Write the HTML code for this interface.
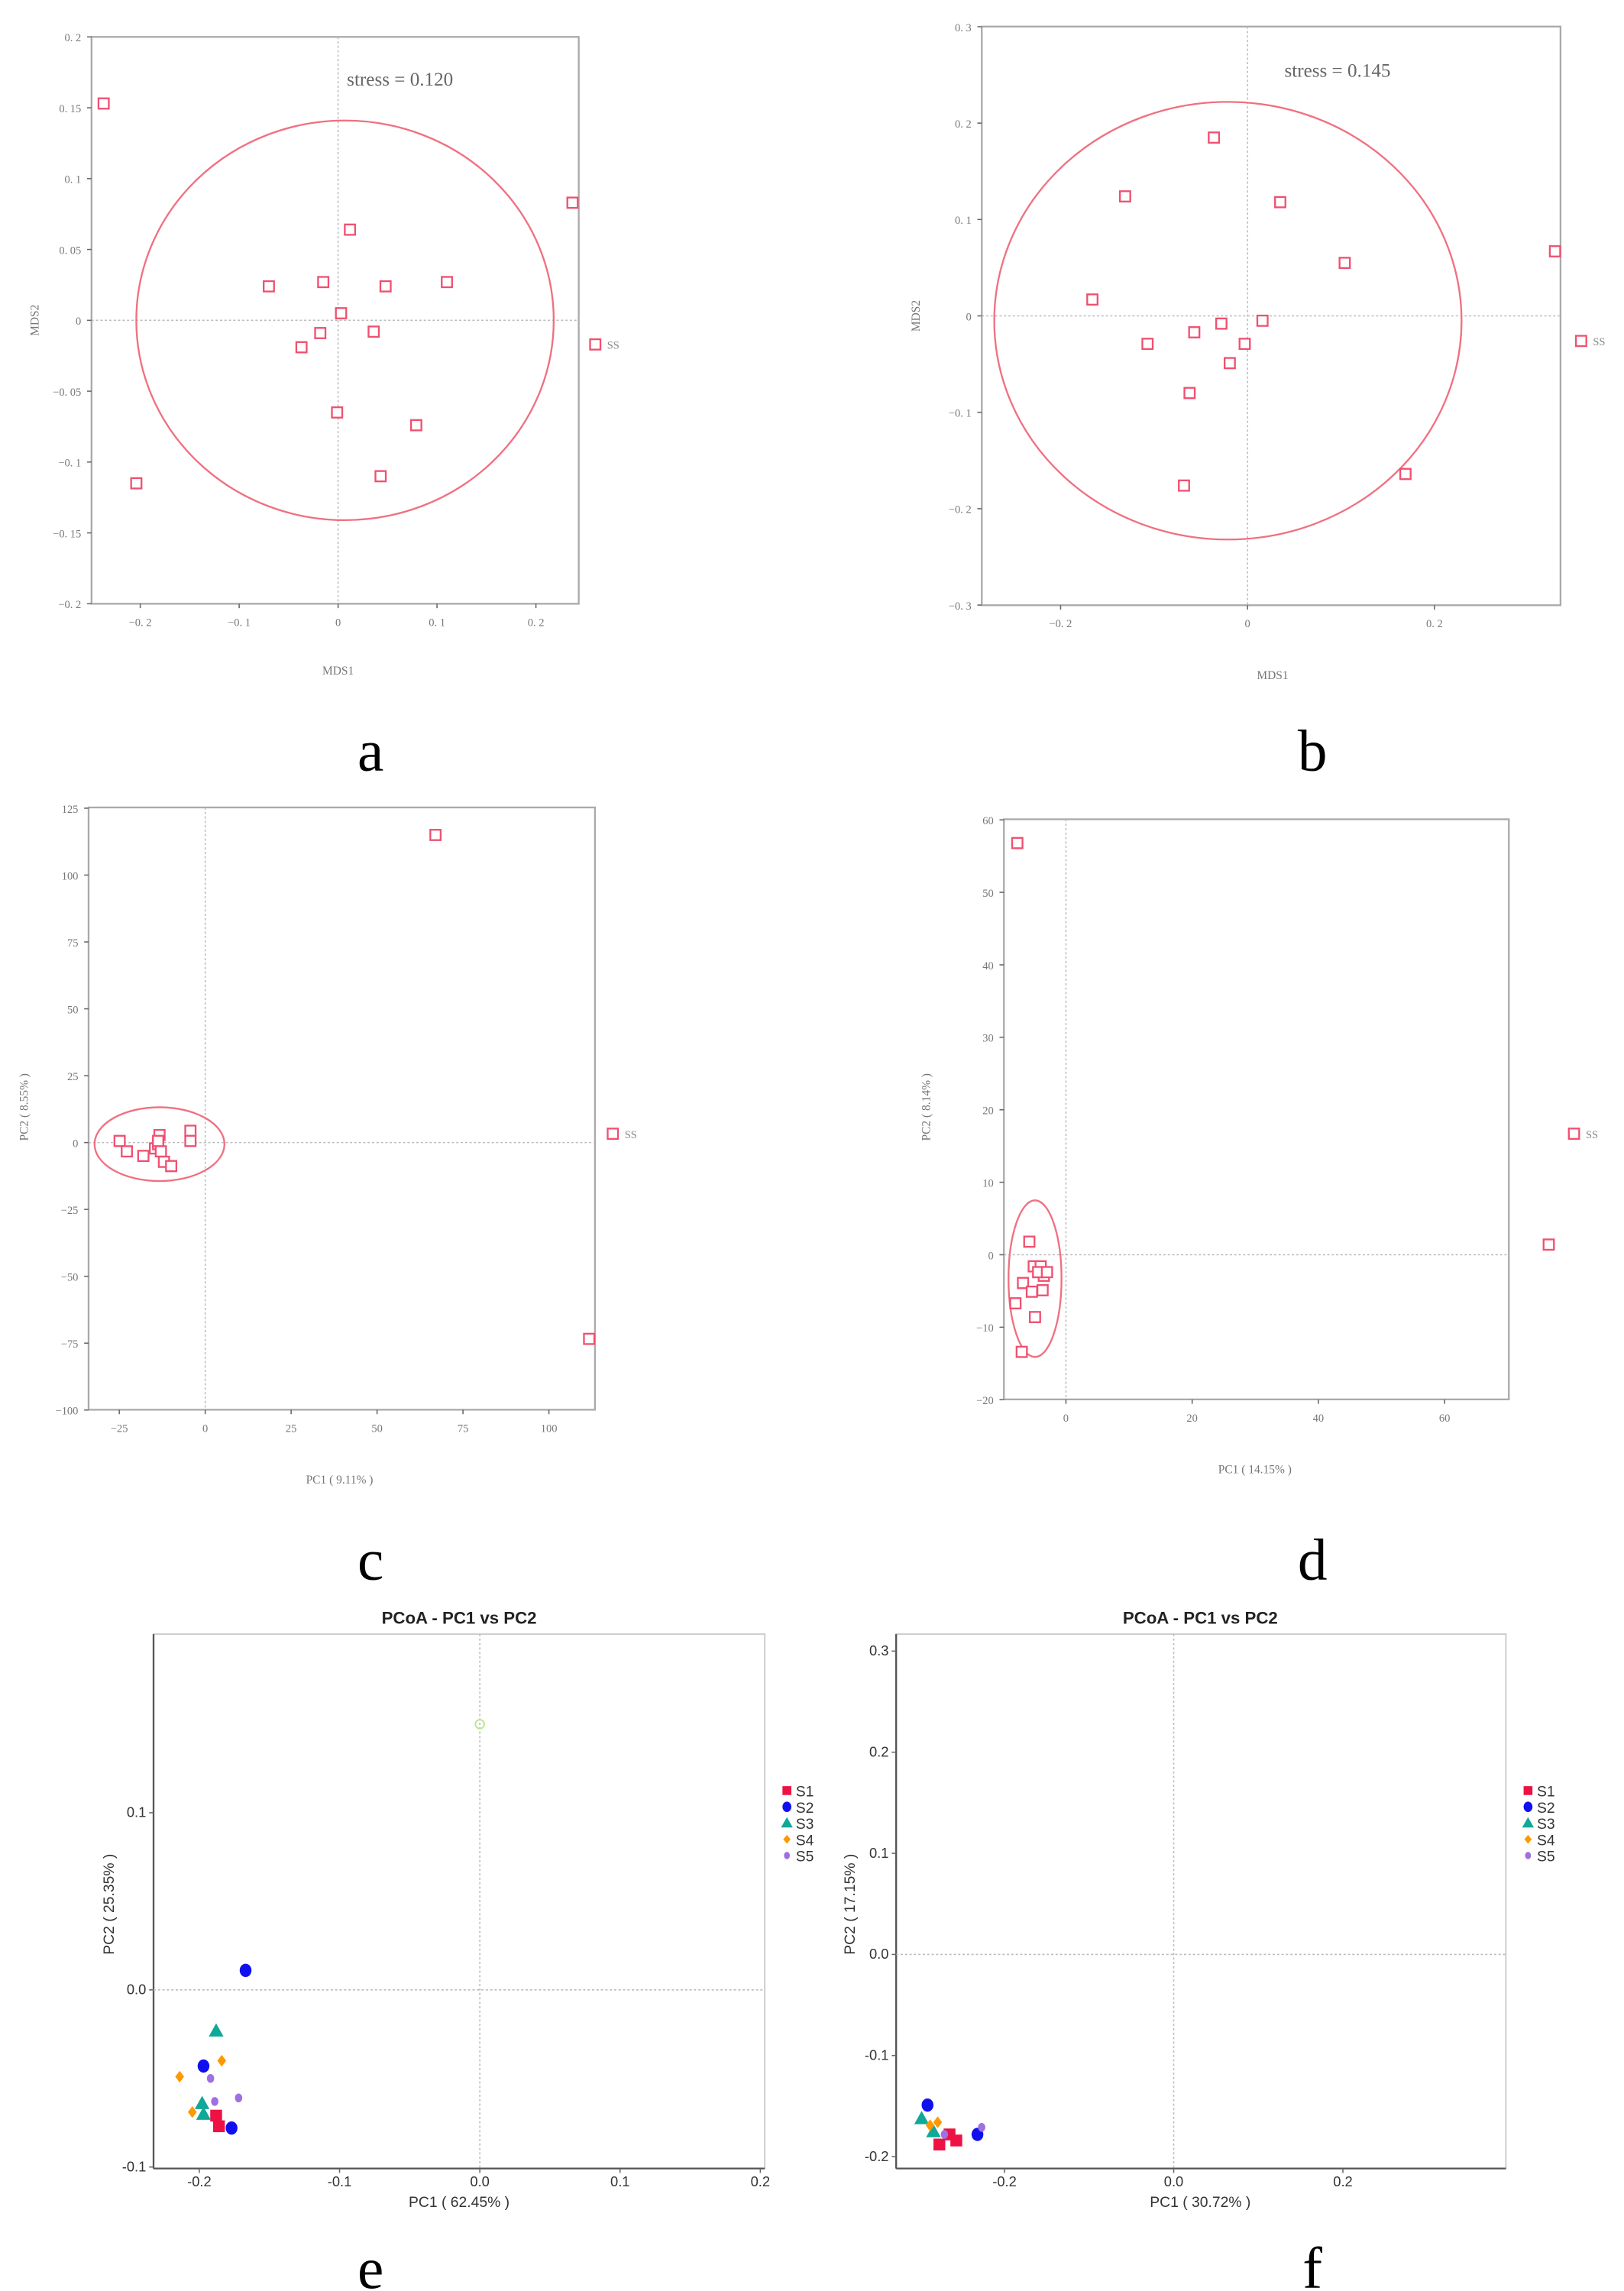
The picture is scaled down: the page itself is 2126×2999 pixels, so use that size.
<!DOCTYPE html>
<html><head><meta charset="utf-8"><style>
html,body{margin:0;padding:0;background:#fff;}
svg{display:block;}
</style></head><body>
<svg id="fig" xmlns="http://www.w3.org/2000/svg" width="2126" height="2999" viewBox="0 0 1100 1552" preserveAspectRatio="none">
<rect x="0" y="0" width="1100" height="1552" fill="#fff"/>
</svg>
<script>
// ---- data (panel a: NMDS) ----
const aX = [-0.237,0.237,0.012,-0.070,-0.015,0.048,0.110,0.003,-0.018,0.036,-0.037,0.260,-0.001,0.079,-0.204,0.043];
const aY = [0.153,0.083,0.064,0.024,0.027,0.024,0.027,0.005,-0.009,-0.008,-0.019,-0.017,-0.065,-0.074,-0.115,-0.110];
const aEllipse = [0.007,0.0,0.211,0.141];
const aXTicks = [-0.2,-0.1,0,0.1,0.2];
const aYTicks = [0.2,0.15,0.1,0.05,0,-0.05,-0.1,-0.15,-0.2];
// ---- panel b ----
const bX = [-0.036,-0.131,0.035,0.104,0.329,-0.166,-0.028,-0.057,0.016,-0.107,-0.003,-0.019,-0.062,0.357,0.169,-0.068];
const bY = [0.185,0.124,0.118,0.055,0.067,0.017,-0.008,-0.017,-0.005,-0.029,-0.029,-0.049,-0.080,-0.026,-0.164,-0.176];
const bEllipse = [-0.021,-0.005,0.250,0.227];
const bXTicks = [-0.2,0,0.2];
const bYTicks = [0.3,0.2,0.1,0,-0.1,-0.2,-0.3];
// ---- panel c: PCA ----
const cX = [67,118.6,111.7,-4.3,-4.3,-24.9,-22.8,-18.0,-14.6,-13.3,-13.7,-12.9,-12.0,-9.9,-13.7];
const cY = [115,3.3,-73.4,4.4,0.6,0.6,-3.3,-5.0,-2.2,2.8,-0.6,-3.3,-7.2,-8.8,0.6];
const cEllipse = [-13.3,-0.6,18.9,13.8];
const cXTicks = [-25,0,25,50,75,100];
const cYTicks = [125,100,75,50,25,0,-25,-50,-75,-100];
// ---- panel d ----
const dX = [-7.7,76.5,80.5,-5.8,-5.1,-4.0,-3.5,-6.8,-5.4,-3.7,-4.4,-8.0,-4.9,-7.0,-3.0];
const dY = [56.8,1.4,16.7,1.8,-1.6,-1.6,-2.9,-3.9,-5.1,-4.9,-2.4,-6.7,-8.6,-13.4,-2.4];
const dEllipse = [-4.9,-3.3,4.2,10.8];
const dXTicks = [0,20,40,60];
const dYTicks = [60,50,40,30,20,10,0,-10,-20];
// ---- panel e: PCoA ----
const groups = ["S1","S2","S3","S4","S5"];
const eX = [[-0.186,-0.188],[-0.167,-0.197,-0.177],[-0.188,-0.198,-0.197],[-0.214,-0.184,-0.205],[-0.192,-0.189,-0.172]];
const eY = [[-0.077,-0.071],[0.011,-0.043,-0.078],[-0.023,-0.064,-0.070],[-0.049,-0.040,-0.069],[-0.050,-0.063,-0.061]];
const eXTicks = [-0.2,-0.1,0.0,0.1,0.2];
const eYTicks = [0.1,0.0,-0.1];
// ---- panel f ----
const fX = [[-0.277,-0.265,-0.257],[-0.291,-0.232],[-0.298,-0.284],[-0.288,-0.279],[-0.227,-0.271]];
const fY = [[-0.188,-0.178,-0.184],[-0.149,-0.178],[-0.162,-0.175],[-0.169,-0.166],[-0.171,-0.178]];
const fXTicks = [-0.2,0.0,0.2];
const fYTicks = [0.3,0.2,0.1,0.0,-0.1,-0.2];

const NS='http://www.w3.org/2000/svg';
const svg=document.getElementById('fig');
function mk(tag,attrs,parent,text){
  const e=document.createElementNS(NS,tag);
  for(const k in attrs)e.setAttribute(k,attrs[k]);
  if(text!==undefined)e.textContent=text;
  (parent||svg).appendChild(e);return e;
}
function fmtTick(v,style){
  if(style==='serif'){let s=String(v);return s.replace('-','−').replace(/^(−?)0\./,'$1'+'0. ');}
  return v.toFixed(1).replace('-0.0','0.0');
}
function panel(o){
  const g=mk('g',{});
  
  
  const sx=v=>o.x0+v*o.kx, sy=v=>o.y0-v*o.ky;
  const serif=o.style==='serif';
  const ff=serif?'"Liberation Serif", "Noto Serif CJK SC", serif':'"Liberation Sans", Arial, sans-serif';
  const tc=serif?'#777':'#333';
  // box
  const box=mk('rect',{x:o.L,y:o.T,width:o.R-o.L,height:o.B-o.T,fill:'none',stroke:serif?'#aaa':'#ccc','stroke-width':serif?1.2:1},g);
  
  if(!serif){
    mk('line',{x1:o.L,y1:o.T,x2:o.L,y2:o.B,stroke:'#555','stroke-width':1.2},g);
    mk('line',{x1:o.L,y1:o.B,x2:o.R,y2:o.B,stroke:'#555','stroke-width':1.2},g);
  }
  // zero lines
  const zx=mk('line',{x1:sx(0),y1:o.T,x2:sx(0),y2:o.B,stroke:'#bbb','stroke-width':0.8,'stroke-dasharray':'1.5,1.5'},g);
  
  const zy=mk('line',{x1:o.L,y1:sy(0),x2:o.R,y2:sy(0),stroke:'#bbb','stroke-width':0.8,'stroke-dasharray':'1.5,1.5'},g);
  
  const fs=serif?7.5:9.5;
  o.xt.forEach(v=>{
    mk('line',{x1:sx(v),y1:o.B,x2:sx(v),y2:o.B+3,stroke:'#666','stroke-width':0.8},g);
    const t=mk('text',{x:sx(v),y:o.B+(serif?15:12),'font-size':fs,'font-family':ff,fill:tc,'text-anchor':'middle'},g,fmtTick(v,o.style));
    
  });
  o.yt.forEach(v=>{
    mk('line',{x1:o.L-3,y1:sy(v),x2:o.L,y2:sy(v),stroke:'#666','stroke-width':0.8},g);
    const t=mk('text',{x:o.L-(serif?7:5),y:sy(v)+3,'font-size':fs,'font-family':ff,fill:tc,'text-anchor':'end'},g,fmtTick(v,o.style));
    
  });
  const xl=mk('text',{x:o.xlab[1],y:o.xlab[2],'font-size':serif?8:10,'font-family':ff,fill:tc,'text-anchor':'middle'},g,o.xlab[0]);
  
  const yl=mk('text',{x:0,y:0,'font-size':serif?8:10,'font-family':ff,fill:tc,'text-anchor':'middle',transform:`translate(${o.ylab[1]},${o.ylab[2]}) rotate(-90)`},g,o.ylab[0]);
  
  if(o.ell){
    const el=mk('ellipse',{cx:sx(o.ell[0]),cy:sy(o.ell[1]),rx:o.ell[2]*o.kx,ry:o.ell[3]*o.ky,fill:'none',stroke:'#f07080','stroke-width':1.2},g);
    
  }
  if(o.px){
    o.px.forEach((v,i)=>{
      const r=mk('rect',{x:sx(v)-3.5,y:sy(o.py[i])-3.5,width:7,height:7,fill:'#fff',stroke:'#f05070','stroke-width':1.2},g);
      
    });
    const ssi=o.ss;
    const st=mk('text',{x:sx(o.px[ssi])+8,y:sy(o.py[ssi])+3,'font-size':7.5,'font-family':ff,fill:'#888'},g,'SS');
    
  }
  if(o.stress){
    const t=mk('text',{x:o.stress[1],y:o.stress[2],'font-size':13,'font-family':ff,fill:'#666'},g,o.stress[0]);
    
  }
  if(o.gx){
    const cols=['#ee1144','#1010ee','#10a898','#ff9900','#a070e0'];
    o.gx.forEach((arr,gi)=>{
      arr.forEach((v,i)=>{
        const x=sx(v),y=sy(o.gy[gi][i]);let e;
        if(gi===0)e=mk('rect',{x:x-4,y:y-4,width:8,height:8,fill:cols[0]},g);
        else if(gi===1)e=mk('ellipse',{cx:x,cy:y,rx:4,ry:4.5,fill:cols[1]},g);
        else if(gi===2)e=mk('polygon',{points:`${x},${y-5} ${x+5},${y+4} ${x-5},${y+4}`,fill:cols[2]},g);
        else if(gi===3)e=mk('polygon',{points:`${x},${y-4} ${x+3},${y} ${x},${y+4} ${x-3},${y}`,fill:cols[3]},g);
        else e=mk('ellipse',{cx:x,cy:y,rx:2.5,ry:3,fill:cols[4]},g);
        
        
      });
    });
    groups.forEach((s,gi)=>{
      const lx=o.leg[0],ly=o.leg[1]+gi*11;let e;
      if(gi===0)e=mk('rect',{x:lx-3,y:ly-3,width:6,height:6,fill:cols[0]},g);
      else if(gi===1)e=mk('ellipse',{cx:lx,cy:ly,rx:3,ry:3.5,fill:cols[1]},g);
      else if(gi===2)e=mk('polygon',{points:`${lx},${ly-4} ${lx+4},${ly+3} ${lx-4},${ly+3}`,fill:cols[2]},g);
      else if(gi===3)e=mk('polygon',{points:`${lx},${ly-3} ${lx+2.5},${ly} ${lx},${ly+3} ${lx-2.5},${ly}`,fill:cols[3]},g);
      else e=mk('ellipse',{cx:lx,cy:ly,rx:2,ry:2.5,fill:cols[4]},g);
      
      const t=mk('text',{x:lx+6,y:ly+4,'font-size':10,'font-family':ff,fill:'#333'},g,s);
      
    });
    const tt=mk('text',{x:o.title[0],y:o.title[1],'font-size':11.5,'font-weight':'bold','font-family':ff,fill:'#222','text-anchor':'middle'},g,'PCoA - PC1 vs PC2');
    
  }
  const lt=mk('text',{x:o.letter[1],y:o.letter[2],'font-size':40,'font-family':'"Liberation Serif", serif',fill:'#000','text-anchor':'middle'},g,o.letter[0]);
  
}
panel({name:'panel-a-nmds',style:'serif',L:62,R:392,T:25,B:409,x0:229,kx:670,y0:217,ky:960,xt:aXTicks,yt:aYTicks,
  xlab:['MDS1',229,457],ylab:['MDS2',26,217],ell:aEllipse,px:aX,py:aY,ss:11,stress:['stress = 0.120',235,58],letter:['a',251,522]});
panel({name:'panel-b-nmds',style:'serif',L:665,R:1057,T:18,B:410,x0:845,kx:633,y0:214,ky:653,xt:bXTicks,yt:bYTicks,
  xlab:['MDS1',862,460],ylab:['MDS2',623,214],ell:bEllipse,px:bX,py:bY,ss:13,stress:['stress = 0.145',870,52],letter:['b',889,522]});
panel({name:'panel-c-pca',style:'serif',L:60,R:403,T:547,B:955,x0:139,kx:2.328,y0:774,ky:1.812,xt:cXTicks,yt:cYTicks,
  xlab:['PC1 ( 9.11% )',230,1005],ylab:['PC2 ( 8.55% )',19,750],ell:cEllipse,px:cX,py:cY,ss:1,letter:['c',251,1070]});
panel({name:'panel-d-pca',style:'serif',L:680,R:1022,T:555,B:948,x0:722,kx:4.275,y0:850,ky:4.91,xt:dXTicks,yt:dYTicks,
  xlab:['PC1 ( 14.15% )',850,998],ylab:['PC2 ( 8.14% )',630,750],ell:dEllipse,px:dX,py:dY,ss:2,letter:['d',889,1070]});
panel({name:'panel-e-pcoa',style:'sans',L:104,R:518,T:1107,B:1469,x0:325,kx:950,y0:1348,ky:1200,xt:eXTicks,yt:eYTicks,
  xlab:['PC1 ( 62.45% )',311,1495],ylab:['PC2 ( 25.35% )',77,1290],gx:eX,gy:eY,leg:[533,1213],title:[311,1100],letter:['e',251,1550]});
panel({name:'panel-f-pcoa',style:'sans',L:607,R:1020,T:1107,B:1469,x0:795,kx:573,y0:1324,ky:685,xt:fXTicks,yt:fYTicks,
  xlab:['PC1 ( 30.72% )',813,1495],ylab:['PC2 ( 17.15% )',579,1290],gx:fX,gy:fY,leg:[1035,1213],title:[813,1100],letter:['f',889,1550]});
// faint green point in panel e
const gp=mk('circle',{cx:325,cy:1168,r:3,fill:'none',stroke:'#b8e890','stroke-width':1});


</script>
</body></html>
